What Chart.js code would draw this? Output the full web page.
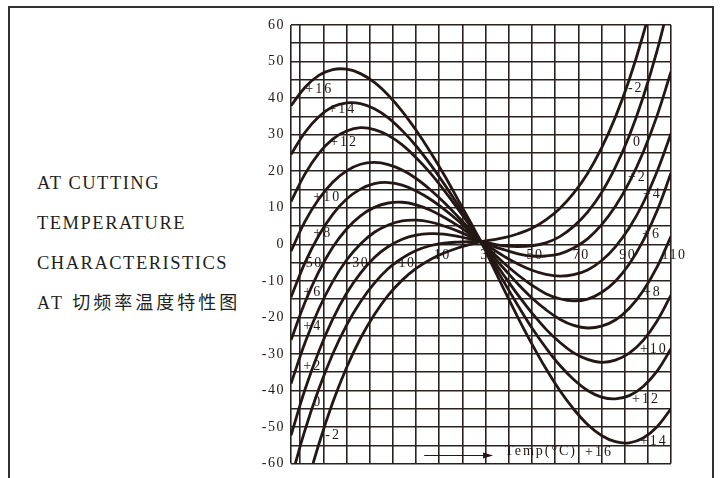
<!DOCTYPE html>
<html><head><meta charset="utf-8">
<script src="https://cdn.jsdelivr.net/npm/chart.js@4.4.1/dist/chart.umd.min.js"></script>
<style>
html,body{margin:0;padding:0;background:#fff;}
#wrap{position:relative;width:720px;height:478px;overflow:hidden;background:#fff;}
#frame{position:absolute;left:8px;top:6px;width:702px;height:540px;border:2px solid #333;}
canvas{position:absolute;left:0;top:0;}
.t{position:absolute;left:37px;font-family:"Liberation Serif",serif;font-size:18.5px;line-height:20px;letter-spacing:1.5px;color:#231f20;white-space:nowrap;}
.cn{font-family:"Liberation Serif","Noto Sans CJK SC",serif;font-size:18px;letter-spacing:3px;}
</style></head><body>
<div id="wrap">
<div id="frame"></div>
<div class="t" style="top:173px">AT CUTTING</div>
<div class="t" style="top:213px">TEMPERATURE</div>
<div class="t" style="top:253px">CHARACTERISTICS</div>
<div class="t cn" style="top:293px">AT 切频率温度特性图</div>
<canvas id="c" width="720" height="478"></canvas>
</div>
<script>
// ---- data ----
const tempC = [-54,-48,-42,-36,-30,-24,-18,-12,-6,0,6,12,18,23,28,33,38,44,50,56,62,68,74,80,86,92,98,104,110];
const curveNames = ['+16','+14','+12','+10','+8','+6','+4','+2','0','-2'];
const dev16 = [37.9,42.9,46.2,47.8,47.9,46.7,44.3,40.8,36.4,31.2,25.4,19.1,12.3,6.6,0.7,null,null,null,null,null,null,null,null,null,null,null,null,null,null];
const dev14 = [24.6,30.6,34.9,37.6,38.7,38.5,37.1,34.6,31.1,26.9,22.0,16.6,10.8,5.8,0.7,-5.9,-12.5,-20.1,-27.3,-34.0,-40.0,-45.1,-49.3,-52.3,-54.0,-54.3,-53.0,-49.9,-45.0];
const dev12 = [11.7,19.2,24.9,28.8,31.0,31.9,31.4,29.8,27.2,23.7,19.6,14.8,9.7,5.3,0.7,-4.9,-10.4,-16.8,-22.9,-28.3,-33.1,-37.0,-40.0,-41.8,-42.3,-41.4,-38.9,-34.7,-28.6];
const dev10 = [-1.9,6.2,12.4,17.0,20.1,21.9,22.4,21.8,20.3,18.0,15.0,11.5,7.6,4.2,0.7,-4.0,-8.6,-13.9,-18.8,-23.2,-26.8,-29.7,-31.5,-32.3,-31.7,-29.8,-26.3,-21.0,-13.9];
const dev8 = [-14.5,-5.1,2.4,8.2,12.4,15.1,16.6,16.9,16.2,14.6,12.4,9.6,6.5,3.6,0.7,-3.1,-6.7,-10.9,-14.7,-17.9,-20.5,-22.2,-22.9,-22.4,-20.7,-17.5,-12.7,-6.2,2.2];
const dev6 = [-26.2,-15.9,-7.5,-0.8,4.2,7.8,10.1,11.3,11.5,10.8,9.4,7.4,5.1,2.9,0.7,-2.3,-5.2,-8.4,-11.2,-13.5,-14.9,-15.5,-15.0,-13.2,-10.1,-5.4,1.0,9.2,19.5];
const dev4 = [-38.1,-27.0,-17.7,-10.2,-4.3,0.1,3.3,5.3,6.4,6.6,6.1,5.0,3.6,2.2,0.7,-1.3,-3.3,-5.4,-7.1,-8.2,-8.7,-8.3,-7.0,-4.5,-0.7,4.5,11.3,19.9,30.3];
const dev2 = [-52.3,-39.8,-29.3,-20.5,-13.4,-7.9,-3.6,-0.6,1.4,2.5,2.9,2.8,2.2,1.5,0.7,-0.5,-1.5,-2.6,-3.2,-3.2,-2.6,-1.0,1.5,5.3,10.4,17.0,25.2,35.2,47.2];
const dev0 = [-64.2,-50.9,-39.6,-30.0,-22.1,-15.7,-10.6,-6.6,-3.8,-1.7,-0.4,0.3,0.6,0.7,0.7,0.1,-0.4,-0.6,-0.4,0.4,2.1,4.9,8.8,14.1,21.1,29.7,40.3,53.0,68.0];
const devM2 = [-83.4,-68.0,-54.7,-43.3,-33.7,-25.7,-19.2,-13.9,-9.8,-6.6,-4.2,-2.4,-1.0,-0.1,0.7,1.2,1.8,2.9,4.4,6.7,9.8,14.0,19.4,26.3,34.8,45.1,57.4,72.0,88.9];

const xGridTicks = [-54,-50,-40,-30,-20,-10,0,10,20,30,40,50,60,70,80,90,100,110];
const xLabelsPos = [10,30,50,70,90,110];
const xLabelsNeg = [-50,-30,-10];
const yGridTicks = [-60,-55,-50,-45,-40,-35,-30,-25,-20,-15,-10,-5,0,5,10,15,20,25,30,35,40,45,50,55,60];
const yLabels = [-60,-50,-40,-30,-20,-10,0,10,20,30,40,50,60];

// ---- presentation ----
const INK = '#231815';
const GRID = '#2a2220';
const FONT = {family: '"Liberation Serif", "Times New Roman", serif', size: 14};

// curve tags: [text, temperature, value] (text anchor positions)
const curveTags = [
  ['+16',-47.8,42.5],['+14',-37.9,36.8],['+12',-37.1,27.8],['+10',-44.4,12.8],['+8',-44.4,3.0],
  ['+6',-48.7,-13.1],['+4',-48.7,-22.4],['+2',-48.7,-33.5],['0',-44.4,-43.1],['-2',-39.2,-52.4],
  ['-2',91.4,42.8],['0',93.6,27.8],['+2',91.4,18.3],['+4',97.9,13.6],['+6',97.5,2.7],
  ['+8',97.9,-13.1],['+10',96.6,-28.6],['+12',93.2,-42.3],['+14',96.6,-54.0],['+16',72.9,-57.0],
  ['Temp(°C)',38.4,-56.7]
];
const arrowSpec = {from: 3.5, to: 33.2, at: -57.7};

const series = [dev16, dev14, dev12, dev10, dev8, dev6, dev4, dev2, dev0, devM2];
const datasets = series.map((vals, i) => ({
  label: curveNames[i],
  data: tempC.map((t, j) => ({x: t, y: vals[j]})),
  borderColor: INK,
  borderWidth: 2.8,
  pointRadius: 0,
  tension: 0.4,
  fill: false
}));

const annot = {
  id: 'annot',
  beforeDraw(chart) { try { chart.ctx.letterSpacing = '1.5px'; } catch (e) {} },
  afterDatasetsDraw(chart) {
    const ctx = chart.ctx, xs = chart.scales.x, ys = chart.scales.y;
    ctx.save();
    try { ctx.letterSpacing = '2px'; } catch (e) {}
    ctx.font = '14px "Liberation Serif", serif';
    ctx.fillStyle = INK;
    ctx.textAlign = 'left';
    ctx.textBaseline = 'middle';
    curveTags.forEach(([txt, t, v]) => ctx.fillText(txt, xs.getPixelForValue(t), ys.getPixelForValue(v)));
    const x0 = xs.getPixelForValue(arrowSpec.from), x1 = xs.getPixelForValue(arrowSpec.to);
    const ay = Math.round(ys.getPixelForValue(arrowSpec.at)) + 0.5;
    ctx.strokeStyle = INK; ctx.lineWidth = 1.2;
    ctx.beginPath(); ctx.moveTo(x0, ay); ctx.lineTo(x1 - 8, ay); ctx.stroke();
    ctx.beginPath(); ctx.moveTo(x1, ay); ctx.lineTo(x1 - 10, ay - 3); ctx.lineTo(x1 - 10, ay + 3); ctx.closePath(); ctx.fill();
    ctx.restore();
  }
};

new Chart(document.getElementById('c').getContext('2d'), {
  type: 'line',
  data: {datasets},
  plugins: [annot],
  options: {
    responsive: false,
    animation: false,
    devicePixelRatio: 1,
    layout: {padding: {left: 251, top: 25, right: 49, bottom: 13}},
    plugins: {legend: {display: false}, tooltip: {enabled: false}},
    scales: {
      x: {
        type: 'linear', min: -54, max: 110, position: {y: 0},
        afterBuildTicks: s => { s.ticks = xGridTicks.map(v => ({value: v})); },
        grid: {color: GRID, lineWidth: 1.6, drawTicks: false},
        border: {display: false},
        ticks: {autoSkip: false, maxRotation: 0, labelOffset: 3, padding: 3, color: INK, font: FONT,
          callback: v => xLabelsPos.includes(v) ? String(v) : ''}
      },
      xn: {
        type: 'linear', min: -54, max: 110, position: {y: 0},
        afterBuildTicks: s => { s.ticks = xLabelsNeg.map(v => ({value: v})); },
        grid: {display: false},
        border: {display: false},
        ticks: {autoSkip: false, maxRotation: 0, labelOffset: 11, padding: 3, color: INK, font: FONT,
          callback: v => String(v)}
      },
      y: {
        type: 'linear', min: -60, max: 60, position: 'left',
        afterBuildTicks: s => { s.ticks = yGridTicks.map(v => ({value: v})); },
        afterFit: s => { s.width = 40; },
        grid: {color: GRID, lineWidth: 1.6, drawTicks: false},
        border: {display: false},
        ticks: {autoSkip: false, padding: 6, color: INK, font: FONT,
          callback: v => yLabels.includes(v) ? String(v) : ''}
      }
    }
  }
});
</script>
</body></html>
